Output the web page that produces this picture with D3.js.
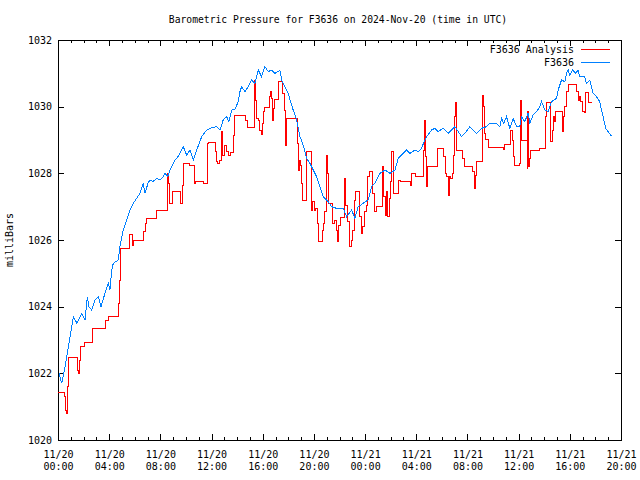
<!DOCTYPE html>
<html>
<head>
<meta charset="utf-8">
<script src="https://cdn.jsdelivr.net/npm/d3@7/dist/d3.min.js"></script>
<style>
  html, body { margin: 0; padding: 0; background: #fff; }
  svg { display: block; }
  text { font-family: "DejaVu Sans Mono", "Liberation Mono", monospace; fill: #000; }
</style>
</head>
<body>
<svg id="chart" width="640" height="480"></svg>
<script>
// ---- Data (hours since 2024-11-20 00:00 UTC) ----
const startTime = "2024-11-20T00:00:00Z";
const endTime = "2024-11-21T20:00:00Z";
const yTicks = [1020, 1022, 1024, 1026, 1028, 1030, 1032];
const xTickLabelsTop = ["11/20", "11/20", "11/20", "11/20", "11/20", "11/20", "11/21", "11/21", "11/21", "11/21", "11/21", "11/21"];
const xTickLabelsBottom = ["00:00", "04:00", "08:00", "12:00", "16:00", "20:00", "00:00", "04:00", "08:00", "12:00", "16:00", "20:00"];
const seriesNames = ["F3636 Analysis", "F3636"];

// Analysis (step values)
const analysisHours = [0.00,0.51,0.61,0.70,0.75,0.80,1.52,1.64,1.70,1.75,2.11,2.71,3.75,3.98,4.75,4.83,4.92,5.55,5.80,5.90,6.72,6.84,6.95,7.66,8.52,8.59,8.67,8.75,8.98,9.61,9.73,9.84,10.31,10.63,10.78,11.41,11.72,11.80,12.29,12.41,12.50,12.66,12.75,12.81,12.89,13.05,13.20,13.32,13.48,13.73,13.80,14.65,14.78,15.37,15.45,15.52,15.66,15.78,15.88,15.96,16.05,16.13,16.52,16.60,16.70,16.80,16.85,16.91,17.27,17.54,17.70,17.77,17.87,18.69,18.79,18.87,18.95,19.05,19.13,19.40,19.78,19.91,20.04,20.16,20.25,20.34,20.64,20.74,20.86,20.95,21.03,21.11,21.47,21.60,21.73,21.81,21.94,22.05,22.41,22.48,22.62,22.77,22.91,23.03,23.16,23.24,23.55,23.69,23.81,23.95,24.08,24.20,24.34,24.59,24.73,24.91,25.33,25.43,25.59,25.66,25.77,25.90,26.00,26.09,26.21,26.64,26.80,27.52,27.62,27.93,28.58,28.65,28.73,28.81,28.91,29.65,30.16,30.27,30.39,30.49,30.59,30.70,30.80,30.90,30.98,31.04,31.11,31.63,31.76,32.41,32.52,32.62,32.72,33.15,33.19,33.27,33.33,33.40,33.66,34.80,34.88,35.35,35.55,35.63,35.70,36.05,36.15,36.20,36.66,36.73,36.80,36.85,36.90,37.63,38.09,38.19,38.48,38.62,38.71,38.79,38.87,39.44,39.52,39.62,39.74,39.91,40.56,40.66,40.78,40.87,40.98,41.11,41.21,41.43,41.70];
const analysisValues = [1021.42,1021.3,1020.9,1020.8,1021.6,1022.47,1022.1,1022.0,1022.4,1022.8,1022.93,1023.35,1023.6,1023.7,1024.1,1024.8,1025.75,1026.18,1025.85,1026.0,1026.25,1026.5,1026.65,1026.9,1027.3,1028.0,1027.7,1027.1,1027.45,1027.1,1027.65,1028.3,1028.25,1027.7,1027.75,1027.7,1028.9,1028.93,1028.65,1028.35,1028.3,1028.4,1028.85,1029.25,1028.55,1028.85,1028.65,1028.55,1028.62,1029.15,1029.75,1029.6,1029.38,1030.8,1030.2,1029.65,1029.6,1029.3,1029.17,1029.5,1029.85,1029.98,1030.3,1030.45,1030.25,1029.6,1029.95,1030.22,1030.75,1030.4,1029.9,1028.85,1029.65,1028.9,1028.1,1028.4,1028.25,1027.7,1027.2,1028.65,1026.9,1027.15,1026.9,1026.95,1026.5,1025.97,1026.3,1026.5,1026.85,1028.55,1028.0,1027.1,1026.5,1026.6,1026.3,1025.95,1026.45,1026.68,1027.85,1027.05,1026.55,1025.8,1026.0,1026.3,1027.2,1027.45,1026.7,1026.2,1026.4,1026.85,1027.05,1027.9,1028.05,1027.4,1026.85,1027.0,1028.2,1027.3,1026.75,1027.45,1026.7,1027.25,1027.75,1028.65,1027.4,1027.8,1027.75,1027.65,1028.0,1027.92,1028.7,1029.58,1028.5,1027.6,1028.2,1028.75,1028.5,1028.0,1027.9,1027.35,1027.9,1027.85,1028.0,1028.55,1029.7,1030.12,1028.7,1028.45,1028.22,1028.05,1027.55,1027.95,1028.37,1029.1,1030.35,1030.0,1029.2,1029.02,1028.78,1028.72,1028.87,1029.3,1029.0,1028.5,1028.25,1028.3,1030.2,1029.0,1028.15,1029.85,1028.2,1028.45,1028.7,1028.75,1029.7,1030.12,1028.95,1029.3,1029.7,1029.55,1029.85,1029.25,1029.7,1030.0,1030.45,1030.67,1030.45,1030.2,1030.3,1030.15,1029.85,1029.83,1030.43,1030.12,1030.12];

// Station observations
const stationHours = [0.08,0.29,0.55,0.94,1.20,1.48,1.85,2.11,2.29,2.42,2.63,2.89,3.15,3.36,3.67,3.93,4.06,4.20,4.32,4.71,4.84,5.10,5.37,5.63,5.88,6.15,6.41,6.66,6.80,7.03,7.19,7.42,7.71,7.97,8.23,8.36,8.59,8.75,9.14,9.38,9.79,10.05,10.31,10.57,10.84,11.23,11.62,11.88,12.40,12.66,12.91,13.18,13.36,13.57,13.83,14.09,14.22,14.35,14.61,14.87,15.13,15.39,15.65,15.91,16.17,16.43,16.70,16.95,17.19,17.34,17.48,17.73,17.99,18.18,18.38,18.65,18.91,19.16,19.43,19.69,19.95,20.21,20.47,20.73,21.12,21.38,21.77,22.29,22.55,22.95,23.20,23.46,23.85,24.24,24.51,24.77,25.02,25.16,25.55,25.94,26.33,26.59,26.98,27.24,27.50,27.89,28.15,28.41,28.67,28.80,29.20,29.45,29.71,30.10,30.49,31.02,31.54,31.80,32.19,32.45,32.71,33.10,33.49,33.75,34.27,34.53,34.66,34.84,35.05,35.31,35.57,35.84,36.09,36.23,36.48,36.74,36.88,37.13,37.40,37.66,37.79,38.05,38.30,38.57,38.96,39.09,39.35,39.61,39.74,39.87,40.00,40.23,40.47,40.63,40.78,41.17,41.30,41.56,41.82,42.08,42.34,42.47,42.60,42.81,42.99,43.26];
const stationValues = [1022.0,1021.7,1022.2,1023.1,1023.7,1023.5,1023.8,1023.6,1024.3,1024.0,1023.9,1024.2,1024.3,1024.0,1024.4,1024.7,1024.5,1025.1,1025.3,1025.4,1025.8,1026.3,1026.6,1026.9,1027.1,1027.25,1027.4,1027.7,1027.4,1027.7,1027.8,1027.75,1027.85,1027.8,1027.9,1028.0,1027.9,1028.1,1028.4,1028.5,1028.8,1028.55,1028.7,1028.4,1028.7,1029.1,1029.3,1029.35,1029.4,1029.3,1029.6,1029.7,1029.55,1029.9,1029.93,1030.15,1030.45,1030.6,1030.45,1030.6,1030.8,1030.7,1031.1,1030.9,1031.2,1031.05,1031.1,1031.0,1031.05,1031.1,1030.8,1030.6,1030.4,1030.15,1029.9,1029.6,1029.1,1028.85,1028.45,1028.3,1028.1,1027.9,1027.6,1027.3,1027.15,1027.0,1026.95,1026.95,1026.7,1026.9,1026.65,1027.0,1027.1,1027.2,1027.6,1027.7,1027.9,1028.0,1028.1,1028.0,1028.1,1028.45,1028.6,1028.7,1028.6,1028.7,1028.65,1028.75,1029.0,1029.1,1029.3,1029.35,1029.25,1029.35,1029.2,1029.4,1029.1,1029.2,1029.4,1029.3,1029.2,1029.35,1029.4,1029.5,1029.5,1029.4,1029.65,1029.5,1029.7,1029.35,1029.65,1029.4,1029.4,1029.7,1029.55,1029.8,1029.5,1029.75,1029.85,1030.0,1030.15,1029.9,1029.85,1030.15,1030.25,1030.5,1030.8,1030.75,1031.0,1031.1,1030.95,1031.1,1031.0,1031.1,1030.9,1030.9,1030.7,1030.8,1030.4,1030.3,1030.15,1029.9,1029.7,1029.35,1029.25,1029.12];

// ---- Layout ----
const svg = d3.select("#chart");
const plotL = 58, plotR = 621, plotT = 40, plotB = 440;
const t0 = new Date(startTime), t1 = new Date(endTime);
const hourMs = 3600 * 1000;
const toDate = h => new Date(t0.getTime() + h * hourMs);

const x = d3.scaleUtc().domain([t0, t1]).range([plotL, plotR]);
const y = d3.scaleLinear().domain([yTicks[0], yTicks[yTicks.length - 1]]).range([plotB, plotT]);

const majorTimes = d3.range(0, 45, 4).map(toDate);
const minorTimes = d3.range(0, 45, 1).filter(h => h % 4 !== 0).map(toDate);

const axisStyle = g => {
  g.select(".domain").remove();
  g.selectAll("line").attr("stroke", "#000").attr("shape-rendering", "crispEdges");
};

// minor ticks bottom/top
svg.append("g").attr("transform", `translate(0,${plotB})`)
  .call(d3.axisBottom(x).tickValues(minorTimes).tickSize(-3).tickFormat(""))
  .call(axisStyle);
svg.append("g").attr("transform", `translate(0,${plotT})`)
  .call(d3.axisTop(x).tickValues(minorTimes).tickSize(-3).tickFormat(""))
  .call(axisStyle);

// major bottom
const xAxisG = svg.append("g").attr("transform", `translate(0,${plotB})`)
  .call(d3.axisBottom(x).tickValues(majorTimes).tickSize(-6).tickPadding(0).tickFormat(""))
  .call(axisStyle);
xAxisG.selectAll(".tick").each(function(d, i) {
  const t = d3.select(this).select("text");
  t.attr("y", 0).attr("dy", null).attr("font-size", 10).attr("font-family", "DejaVu Sans Mono").text(null);
  t.append("tspan").attr("x", 0).attr("y", 18).text(xTickLabelsTop[i]);
  t.append("tspan").attr("x", 0).attr("y", 30).text(xTickLabelsBottom[i]);
});
svg.append("g").attr("transform", `translate(0,${plotT})`)
  .call(d3.axisTop(x).tickValues(majorTimes).tickSize(-6).tickFormat(""))
  .call(axisStyle);

// y axes
svg.append("g").attr("transform", `translate(${plotL},0)`)
  .call(d3.axisLeft(y).tickValues(yTicks).tickSize(-6).tickPadding(6).tickFormat(d3.format("d")))
  .call(axisStyle)
  .call(g => g.selectAll("text").attr("font-size", 10).attr("font-family", "DejaVu Sans Mono"));
svg.append("g").attr("transform", `translate(${plotR},0)`)
  .call(d3.axisRight(y).tickValues(yTicks).tickSize(-6).tickFormat(""))
  .call(axisStyle);

// frame
svg.append("rect").attr("x", plotL + 0.5).attr("y", plotT + 0.5)
  .attr("width", plotR - plotL).attr("height", plotB - plotT)
  .attr("fill", "none").attr("stroke", "#000").attr("shape-rendering", "crispEdges");

// lines
const analysis = analysisHours.map((h, i) => ({ t: toDate(h), v: analysisValues[i] }));
const station = stationHours.map((h, i) => ({ t: toDate(h), v: stationValues[i] }));

svg.append("path").datum(analysis)
  .attr("fill", "none").attr("stroke", "#ff0000").attr("stroke-width", 1)
  .attr("shape-rendering", "crispEdges")
  .attr("d", d3.line().x(d => x(d.t)).y(d => y(d.v)).curve(d3.curveStepAfter));
svg.append("path").datum(station)
  .attr("fill", "none").attr("stroke", "#0080ff").attr("stroke-width", 1)
  .attr("shape-rendering", "crispEdges")
  .attr("d", d3.line().x(d => x(d.t)).y(d => y(d.v)));

// title
svg.append("text").attr("x", 338).attr("y", 23).attr("text-anchor", "middle")
  .attr("font-size", 9.7).text("Barometric Pressure for F3636 on 2024-Nov-20 (time in UTC)");

// y label
svg.append("text").attr("transform", "translate(13,240) rotate(-90)")
  .attr("text-anchor", "middle").attr("font-size", 10).text("milliBars");

// legend
const legendColors = ["#ff0000", "#0080ff"];
seriesNames.forEach((name, i) => {
  const ly = 49 + i * 13;
  svg.append("text").attr("x", 574).attr("y", ly + 4).attr("text-anchor", "end")
    .attr("font-size", 10).text(name);
  svg.append("line").attr("x1", 581).attr("x2", 610).attr("y1", ly + 0.5).attr("y2", ly + 0.5)
    .attr("stroke", legendColors[i]).attr("stroke-width", 1).attr("shape-rendering", "crispEdges");
});
</script>
</body>
</html>
